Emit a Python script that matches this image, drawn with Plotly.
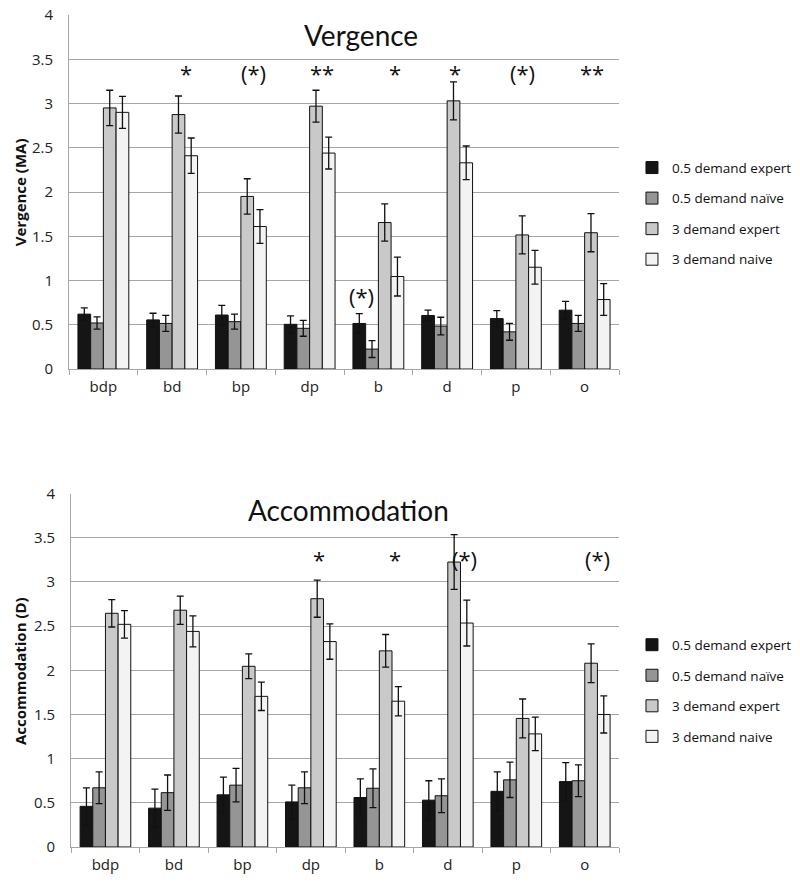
import plotly.graph_objects as go

categories = ["bdp", "bd", "bp", "dp", "b", "d", "p", "o"]
series_names = ["0.5 demand expert", "0.5 demand naïve", "3 demand expert", "3 demand naive"]

# Vergence (MA)
verg_exp05 = [0.62, 0.555, 0.61, 0.505, 0.515, 0.605, 0.57, 0.665]
verg_nai05 = [0.52, 0.515, 0.535, 0.46, 0.225, 0.485, 0.42, 0.515]
verg_exp3 = [2.95, 2.875, 1.95, 2.97, 1.655, 3.03, 1.515, 1.54]
verg_nai3 = [2.90, 2.41, 1.61, 2.44, 1.045, 2.33, 1.15, 0.785]
verg_err_exp05 = [0.07, 0.075, 0.11, 0.095, 0.11, 0.06, 0.09, 0.10]
verg_err_nai05 = [0.07, 0.09, 0.085, 0.09, 0.095, 0.10, 0.095, 0.09]
verg_err_exp3 = [0.20, 0.21, 0.20, 0.18, 0.21, 0.215, 0.215, 0.215]
verg_err_nai3 = [0.18, 0.20, 0.19, 0.18, 0.22, 0.19, 0.19, 0.18]

# Accommodation (D)
acc_exp05 = [0.46, 0.44, 0.59, 0.51, 0.56, 0.53, 0.63, 0.74]
acc_nai05 = [0.67, 0.615, 0.70, 0.67, 0.665, 0.58, 0.76, 0.75]
acc_exp3 = [2.645, 2.68, 2.045, 2.81, 2.22, 3.225, 1.455, 2.08]
acc_nai3 = [2.52, 2.44, 1.705, 2.325, 1.65, 2.535, 1.28, 1.50]
acc_err_exp05 = [0.21, 0.215, 0.20, 0.19, 0.21, 0.22, 0.22, 0.215]
acc_err_nai05 = [0.18, 0.20, 0.19, 0.18, 0.22, 0.19, 0.20, 0.18]
acc_err_exp3 = [0.155, 0.16, 0.14, 0.21, 0.185, 0.31, 0.22, 0.22]
acc_err_nai3 = [0.155, 0.175, 0.16, 0.20, 0.165, 0.26, 0.19, 0.21]

# significance markers: (label, category index + offset, value)
verg_sig_labels = ["*", "(*)", "**", "*", "*", "(*)", "**", "(*)"]
verg_sig_x = [1.20, 2.19, 3.18, 4.24, 5.11, 6.10, 7.11, 3.76]
verg_sig_y = [3.34, 3.34, 3.34, 3.34, 3.34, 3.34, 3.34, 0.82]
acc_sig_labels = ["*", "*", "(*)", "(*)"]
acc_sig_x = [3.12, 4.23, 5.24, 7.19]
acc_sig_y = [3.26, 3.26, 3.26, 3.26]

colors = ["#151515", "#959595", "#c9c9c9", "#f3f3f3"]
TFONT = "Lato"
FONT = "Open Sans"

fig = go.Figure()

verg = [verg_exp05, verg_nai05, verg_exp3, verg_nai3]
verg_err = [verg_err_exp05, verg_err_nai05, verg_err_exp3, verg_err_nai3]
acc = [acc_exp05, acc_nai05, acc_exp3, acc_nai3]
acc_err = [acc_err_exp05, acc_err_nai05, acc_err_exp3, acc_err_nai3]

for i in range(4):
    fig.add_trace(go.Bar(
        x=categories, y=verg[i], name=series_names[i],
        marker=dict(color=colors[i], line=dict(color="#111", width=1)),
        error_y=dict(type="data", array=verg_err[i], color="#111", thickness=1.3, width=3.5),
        xaxis="x", yaxis="y", legend="legend", legendgroup="v%d" % i,
    ))
for i in range(4):
    fig.add_trace(go.Bar(
        x=categories, y=acc[i], name=series_names[i],
        marker=dict(color=colors[i], line=dict(color="#111", width=1)),
        error_y=dict(type="data", array=acc_err[i], color="#111", thickness=1.3, width=3.5),
        xaxis="x2", yaxis="y2", legend="legend2", legendgroup="a%d" % i,
    ))

axis_common = dict(
    range=[0, 4], dtick=0.5, showgrid=True, gridcolor="#a6a6a6", gridwidth=1,
    showline=True, linecolor="#a6a6a6", linewidth=1,
    ticks="outside", ticklen=12, tickcolor="rgba(0,0,0,0)",
    tickfont=dict(family=FONT, size=15, color="#222"), zeroline=False,
    automargin=False,
)
xaxis_common = dict(
    type="category", showline=True, linecolor="#a6a6a6", linewidth=1,
    ticks="outside", tickson="boundaries", ticklen=5, tickcolor="#a6a6a6",
    tickfont=dict(family=FONT, size=15, color="#222"), showgrid=False,
    ticklabelstandoff=4, automargin=False,
)

annotations = []
for lab, x, y in zip(verg_sig_labels, verg_sig_x, verg_sig_y):
    annotations.append(dict(text=lab, x=x, y=y, xref="x", yref="y", showarrow=False,
                            font=dict(family=FONT, size=22, color="#111")))
for lab, x, y in zip(acc_sig_labels, acc_sig_x, acc_sig_y):
    annotations.append(dict(text=lab, x=x, y=y, xref="x2", yref="y2", showarrow=False,
                            font=dict(family=FONT, size=22, color="#111")))

annotations += [
    dict(text="Vergence", x=0.531, y=0.976, xref="paper", yref="paper", showarrow=False,
         font=dict(family=TFONT, size=28, color="#111"), yanchor="middle", xanchor="center"),
    dict(text="Accommodation", x=0.508, y=0.405, xref="paper", yref="paper", showarrow=False,
         font=dict(family=TFONT, size=28, color="#111"), yanchor="middle", xanchor="center"),
    dict(text="<b>Vergence (MA)</b>", x=-0.089, y=0.787, xref="paper", yref="paper",
         showarrow=False, textangle=-90, xanchor="center", yanchor="middle",
         font=dict(family=FONT, size=15, color="#111")),
    dict(text="<b>Accommodation (D)</b>", x=-0.089, y=0.2115, xref="paper", yref="paper",
         showarrow=False, textangle=-90, xanchor="center", yanchor="middle",
         font=dict(family=FONT, size=15, color="#111")),
]

legend_common = dict(
    font=dict(family=FONT, size=13.5, color="#111"), xanchor="left", yanchor="top",
    bgcolor="rgba(0,0,0,0)", traceorder="grouped", tracegroupgap=10, itemwidth=30,
)

fig.update_layout(
    width=800, height=896,
    margin=dict(l=69, r=181, t=15, b=49, autoexpand=False),
    paper_bgcolor="white", plot_bgcolor="white",
    barmode="group", bargap=0.26, bargroupgap=0,
    xaxis=dict(domain=[0, 1], anchor="y", **xaxis_common),
    yaxis=dict(domain=[0.5745, 1], anchor="x", **axis_common),
    xaxis2=dict(domain=[0.004, 1], anchor="y2", **xaxis_common),
    yaxis2=dict(domain=[0, 0.4248], anchor="x2", **axis_common),
    legend=dict(x=1.0236, y=0.835, **legend_common),
    legend2=dict(x=1.0236, y=0.2615, **legend_common),
    annotations=annotations,
    showlegend=True,
)

fig.write_html("out.html", config={"displayModeBar": False},
               post_script="document.body.style.margin='0';")
